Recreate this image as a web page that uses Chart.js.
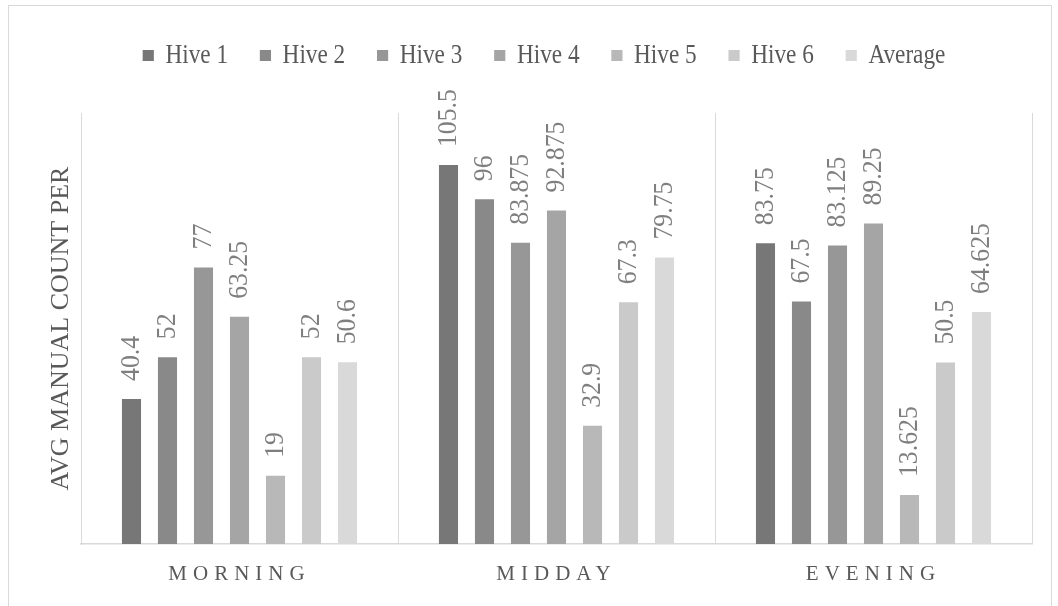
<!DOCTYPE html>
<html>
<head>
<meta charset="utf-8">
<script src="https://cdn.jsdelivr.net/npm/chart.js@4/dist/chart.umd.min.js"></script>
<style>
  html, body { margin: 0; padding: 0; background: #ffffff; }
  #wrap { width: 1058px; height: 606px; }
</style>
</head>
<body>
<div id="wrap"><canvas id="c" width="1058" height="606"></canvas></div>
<script>
// Time-of-day groups and the average manual count per hive
const periods = ['MORNING', 'MIDDAY', 'EVENING'];
const hive1 = [40.4, 105.5, 83.75];
const hive2 = [52, 96, 67.5];
const hive3 = [77, 83.875, 83.125];
const hive4 = [63.25, 92.875, 89.25];
const hive5 = [19, 32.9, 13.625];
const hive6 = [52, 67.3, 50.5];
const average = [50.6, 79.75, 64.625];
const seriesNames = ['Hive 1', 'Hive 2', 'Hive 3', 'Hive 4', 'Hive 5', 'Hive 6', 'Average'];
const yTitle = 'AVG MANUAL COUNT PER';

const shades = ['#777777', '#898989', '#979797', '#a5a5a5', '#b8b8b8', '#cacaca', '#d9d9d9'];
const serif = "'Liberation Serif', 'Times New Roman', serif";
const seriesValues = [hive1, hive2, hive3, hive4, hive5, hive6, average];

const datasets = seriesValues.map((vals, i) => ({
  label: seriesNames[i],
  data: vals,
  backgroundColor: shades[i],
  borderWidth: 0,
  categoryPercentage: 0.795,
  barPercentage: 0.53
}));

// Legend placement, letter-spaced category names, rotated value labels and the outer frame
const LEGEND_CENTER = 544;
const decorations = {
  id: 'decorations',
  beforeDraw(chart) {
    const ctx = chart.ctx;
    ctx.save();
    ctx.strokeStyle = '#d9d9d9';
    ctx.lineWidth = 1;
    ctx.strokeRect(8.5, 5.5, 1043, 700);
    ctx.restore();
  },
  beforeLayout(chart) {
    const lg = chart.legend;
    if (lg && !lg._patched) {
      const fit = lg.fit;
      // keep all seven entries on one row and reserve the band above the plot
      lg.fit = function () { this.maxWidth = 1400; fit.call(this); this.height = 108; };
      const draw = lg.draw;
      // narrow serif look: squeeze the legend row horizontally around its centre
      lg.draw = function () {
        const c = this.ctx;
        const cx = (this.left + this.right) / 2;
        c.save();
        c.translate(cx, 0);
        c.scale(0.86, 1);
        c.translate(-cx, 0);
        draw.call(this);
        c.restore();
      };
      lg._patched = true;
    }
  },
  afterLayout(chart) {
    const lg = chart.legend;
    if (lg) { lg.left = LEGEND_CENTER - 700; lg.right = LEGEND_CENTER + 700; }
    const sx = chart.scales.x;
    if (sx && !sx._spaced) {
      const orig = sx.drawLabels;
      sx.drawLabels = function (area) {
        const c = this.ctx;
        const prev = c.letterSpacing;
        c.letterSpacing = '6px';
        orig.call(this, area);
        c.letterSpacing = prev;
      };
      sx._spaced = true;
    }
  },
  afterDatasetsDraw(chart) {
    const ctx = chart.ctx;
    ctx.save();
    ctx.font = '28px ' + serif;
    ctx.fillStyle = '#7f7f7f';
    ctx.textAlign = 'left';
    ctx.textBaseline = 'middle';
    chart.data.datasets.forEach((ds, di) => {
      const meta = chart.getDatasetMeta(di);
      meta.data.forEach((bar, j) => {
        ctx.save();
        ctx.translate(bar.x, bar.y - 18);
        ctx.rotate(-Math.PI / 2);
        ctx.scale(0.92, 1);
        ctx.fillText(String(ds.data[j]), 0, 0);
        ctx.restore();
      });
    });
    ctx.restore();
  }
};

new Chart(document.getElementById('c'), {
  type: 'bar',
  data: { labels: periods, datasets: datasets },
  options: {
    responsive: false,
    animation: false,
    events: [],
    layout: { padding: { top: 5, right: 26, bottom: 0, left: 0 } },
    plugins: {
      legend: {
        position: 'top',
        labels: {
          font: { family: serif, size: 27 },
          color: '#595959',
          boxWidth: 13,
          boxHeight: 11,
          padding: 37
        }
      },
      tooltip: { enabled: false }
    },
    scales: {
      x: {
        grid: { display: true, color: '#d9d9d9', lineWidth: 1, offset: true, drawTicks: false },
        border: { display: true, color: '#d9d9d9', width: 1.5 },
        ticks: { font: { family: serif, size: 21 }, color: '#595959', padding: 18, maxRotation: 0 },
        afterFit(scale) { scale.height = 62; }
      },
      y: {
        min: 0,
        max: 120,
        grid: { display: false, drawTicks: false },
        border: { display: true, color: '#d9d9d9', width: 1 },
        ticks: { display: false },
        title: {
          display: true,
          text: yTitle,
          font: { family: serif, size: 26 },
          color: '#595959',
          padding: { top: 46, bottom: 0 }
        },
        afterFit(scale) { scale.width = 81; }
      }
    }
  },
  plugins: [decorations]
});
</script>
</body>
</html>
